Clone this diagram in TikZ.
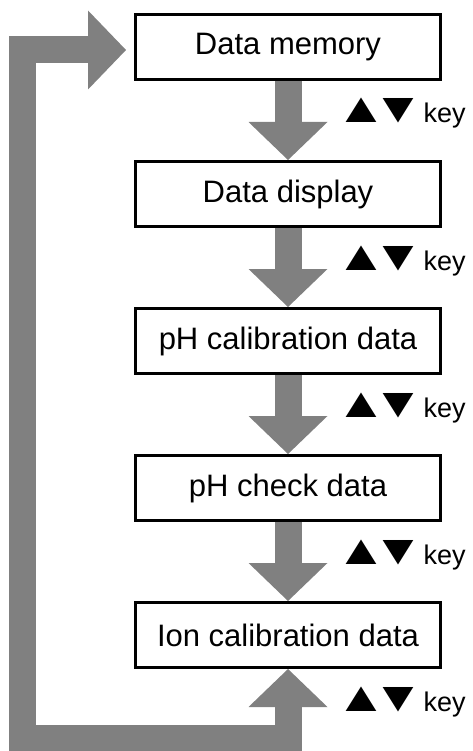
\documentclass[tikz,border=0pt]{standalone}
\usepackage{fontspec}
\usepackage{graphicx}
\setmainfont{Liberation Sans}
\usetikzlibrary{arrows.meta}

\begin{document}
\begin{tikzpicture}[x=1pt,y=-1pt]
    \tikzstyle{screen}=[draw=black, line width=3pt, fill=white, minimum width=305pt, minimum height=65pt, inner sep=0pt, font=\fontsize{31}{37}\selectfont]
    \tikzstyle{keylabel}=[anchor=base west, inner sep=0pt, font=\fontsize{27}{32}\selectfont]
    \tikzstyle{fat}=[draw=gray, line width=27pt, >={Triangle[length=38pt,width=79pt,line width=0pt]}, ->]
    \useasboundingbox (0,0) rectangle (472,751);
    \node[screen] (mem) at (288,47) {Data memory};
    \node[screen] (disp) at (288,194) {Data display};
    \node[screen] (phcal) at (288,341) {pH calibration data};
    \node[screen] (phchk) at (288,488) {pH check data};
    \node[screen] (ion) at (288,635) {Ion calibration data};
    \foreach \a/\b in {mem/disp, disp/phcal, phcal/phchk, phchk/ion}
      \draw[fat] (\a.south) -- (\b.north);
    \foreach \n in {mem, disp, phcal, phchk, ion}
      \node[keylabel] (key-\n) at ([yshift=-42pt]\n.south -| 335,0)
        {\scalebox{1.25}[1]{\fontsize{42}{42}\selectfont ▲\kern-12pt▼}\kern-8pt{} key};
    % back to the top
    \draw[fat, <->] ([shift={(-8pt,-3pt)}]mem.west) -| (22,738) -| (ion.south);
  \end{tikzpicture}
\end{document}
